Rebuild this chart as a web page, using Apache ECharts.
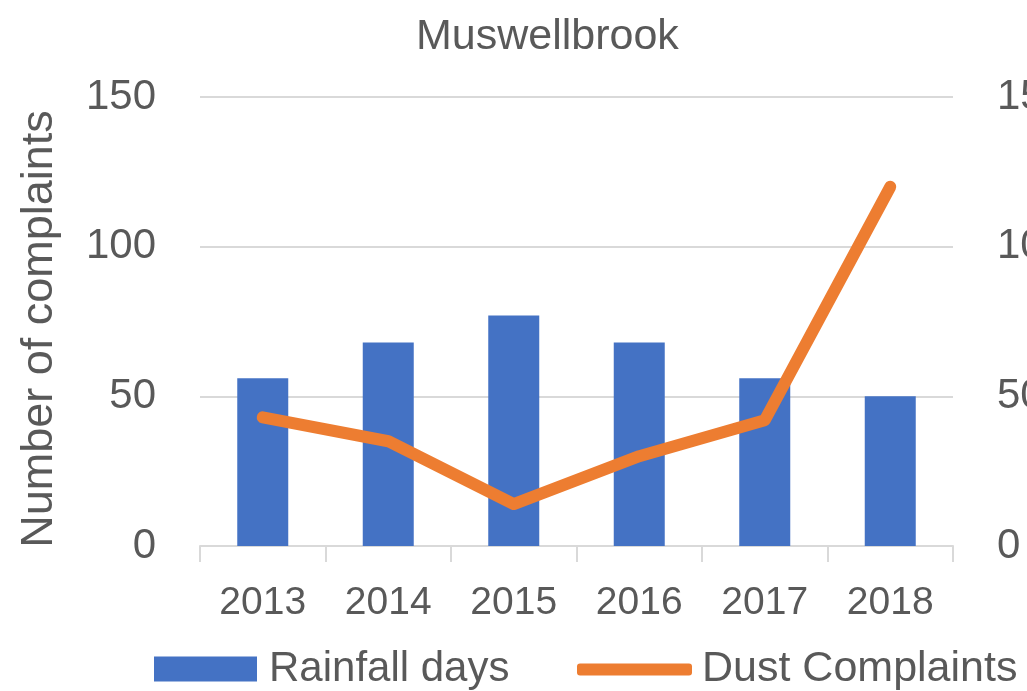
<!DOCTYPE html>
<html>
<head>
<meta charset="utf-8">
<script src="https://cdn.jsdelivr.net/npm/echarts@6/dist/echarts.min.js"></script>
<style>
html,body{margin:0;padding:0;background:#fff;}
#main{width:1027px;height:691px;}
</style>
</head>
<body>
<div id="main"></div>
<script>
var categories = ['2013', '2014', '2015', '2016', '2017', '2018'];
var rainfallDays = [56, 68, 77, 68, 56, 50];
var dustComplaints = [43, 35, 14, 30, 42, 120];
var yTicks = [0, 50, 100, 150];

var FONT = '"Liberation Sans", Arial, sans-serif';
var GREY = '#595959';

var chart = echarts.init(document.getElementById('main'), null, {renderer: 'canvas'});
chart.setOption({
  backgroundColor: '#ffffff',
  animation: false,
  title: {
    text: 'Muswellbrook',
    left: 416,
    top: 16,
    padding: 0,
    textStyle: {fontFamily: FONT, fontSize: 43, fontWeight: 'normal', color: GREY}
  },
  legend: [
    {
      data: ['Rainfall days'],
      left: 154,
      top: 648,
      padding: 0,
      itemWidth: 103,
      itemHeight: 25,
      icon: 'rect',
      textStyle: {fontFamily: FONT, fontSize: 42, color: GREY, padding: [0, 0, 0, 7]}
    },
    {
      data: ['Dust Complaints'],
      left: 577,
      top: 648,
      padding: 0,
      itemWidth: 115,
      itemHeight: 12,
      icon: 'roundRect',
      textStyle: {fontFamily: FONT, fontSize: 43, color: GREY, padding: [0, 0, 0, 5]}
    }
  ],
  grid: {left: 200, right: 74, top: 97, bottom: 145, containLabel: false, outerBoundsMode: 'none'},
  xAxis: {
    type: 'category',
    data: categories,
    boundaryGap: true,
    axisLine: {show: true, lineStyle: {color: '#D9D9D9', width: 2}},
    axisTick: {show: true, length: 16, alignWithLabel: false, lineStyle: {color: '#D9D9D9', width: 2}},
    axisLabel: {fontFamily: FONT, fontSize: 39, color: GREY, margin: 38}
  },
  yAxis: [
    {
      type: 'value',
      min: 0, max: 150, interval: 50,
      name: 'Number of complaints',
      nameLocation: 'middle',
      nameRotate: 90,
      nameGap: 138,
      nameTextStyle: {fontFamily: FONT, fontSize: 45, color: GREY, padding: [0, 15, 0, 0]},
      axisLine: {show: false},
      axisTick: {show: false},
      axisLabel: {fontFamily: FONT, fontSize: 42, color: GREY, margin: 44},
      splitLine: {show: true, lineStyle: {color: '#D9D9D9', width: 2}}
    },
    {
      type: 'value',
      min: 0, max: 150, interval: 50,
      position: 'right',
      axisLine: {show: false},
      axisTick: {show: false},
      axisLabel: {fontFamily: FONT, fontSize: 42, color: GREY, margin: 44},
      splitLine: {show: false}
    }
  ],
  series: [
    {
      name: 'Rainfall days',
      type: 'bar',
      yAxisIndex: 1,
      data: rainfallDays,
      barWidth: 51,
      itemStyle: {color: '#4472C4'}
    },
    {
      name: 'Dust Complaints',
      type: 'line',
      yAxisIndex: 0,
      data: dustComplaints,
      symbol: 'none',
      lineStyle: {color: '#ED7D31', width: 12, cap: 'round', join: 'round'},
      itemStyle: {color: '#ED7D31'}
    }
  ]
});
</script>
</body>
</html>
